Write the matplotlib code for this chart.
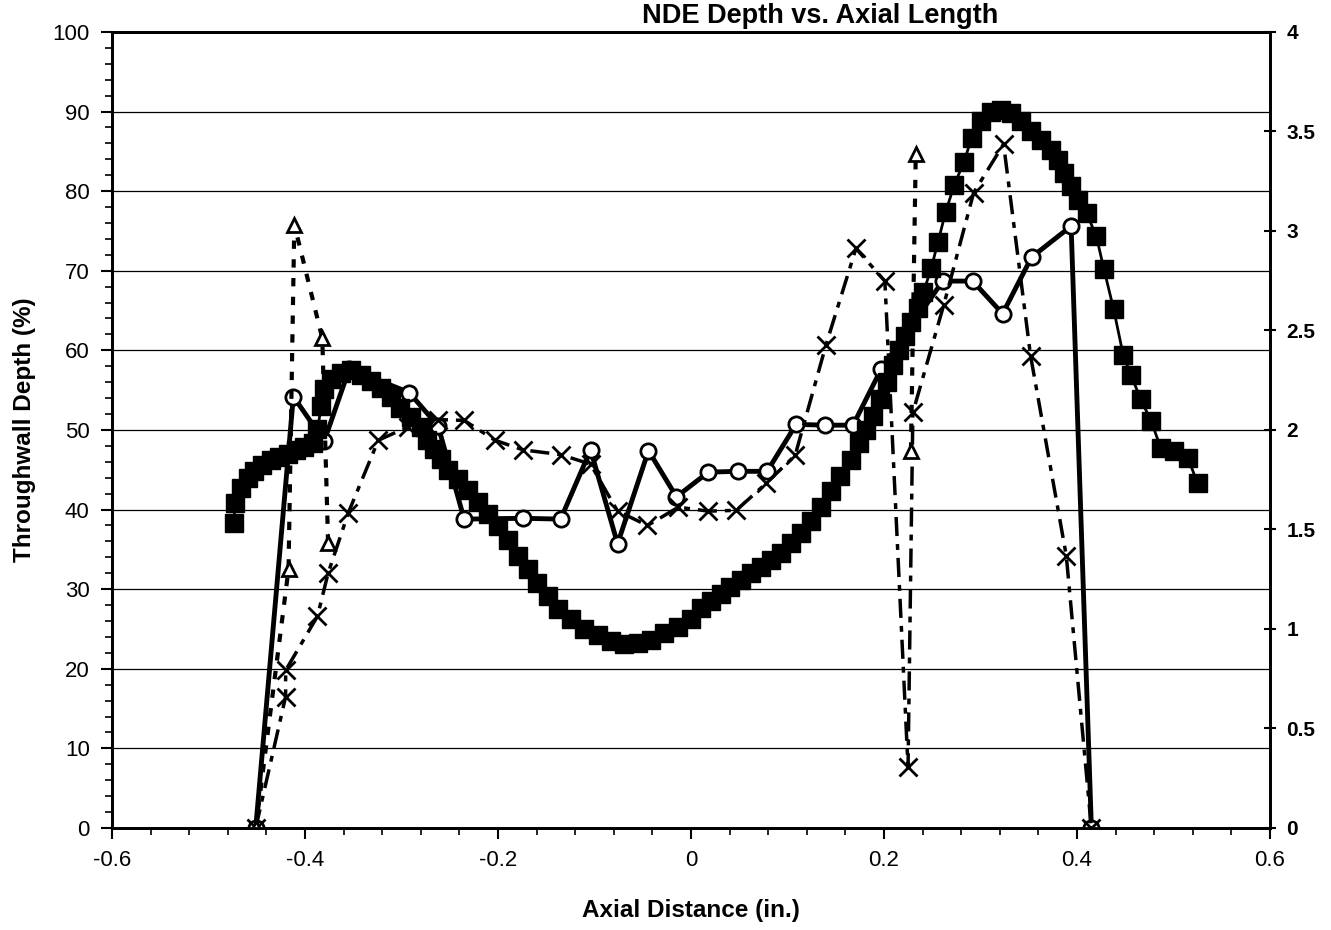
import numpy as np
import matplotlib.pyplot as plt
from matplotlib.ticker import MultipleLocator

plt.rcParams['font.family'] = ['Liberation Sans', 'DejaVu Sans']

# profile depth (filled squares)
sq_x = [-0.474, -0.472, -0.466, -0.459, -0.453, -0.444, -0.435, -0.427, -0.418, -0.409,
        -0.401, -0.392, -0.387, -0.383, -0.380, -0.373, -0.363, -0.352, -0.342, -0.332,
        -0.321, -0.311, -0.301, -0.290, -0.280, -0.273, -0.266, -0.259, -0.252, -0.241,
        -0.231, -0.221, -0.210, -0.200, -0.190, -0.179, -0.169, -0.159, -0.148, -0.138,
        -0.124, -0.111, -0.096, -0.083, -0.069, -0.055, -0.041, -0.028, -0.013, 0.000,
        0.010, 0.021, 0.031, 0.041, 0.052, 0.062, 0.073, 0.083, 0.093, 0.104,
        0.114, 0.124, 0.135, 0.145, 0.155, 0.166, 0.174, 0.181, 0.189, 0.196,
        0.203, 0.209, 0.216, 0.222, 0.228, 0.235, 0.241, 0.249, 0.256, 0.264,
        0.273, 0.283, 0.291, 0.301, 0.311, 0.321, 0.332, 0.342, 0.352, 0.363,
        0.373, 0.380, 0.387, 0.394, 0.401, 0.410, 0.420, 0.428, 0.438, 0.448,
        0.456, 0.466, 0.477, 0.487, 0.501, 0.515, 0.525]
sq_y = [38.3, 40.8, 42.7, 44.0, 44.9, 45.6, 46.2, 46.6, 47.0, 47.5,
        47.9, 48.3, 50.1, 53.0, 55.1, 56.4, 57.2, 57.5, 56.9, 56.1,
        55.3, 54.1, 52.8, 51.6, 50.4, 48.7, 47.6, 46.3, 45.0, 43.8,
        42.4, 41.0, 39.5, 37.9, 36.2, 34.2, 32.5, 30.8, 29.2, 27.5,
        26.3, 25.0, 24.3, 23.5, 23.1, 23.2, 23.6, 24.5, 25.3, 26.3,
        27.6, 28.5, 29.4, 30.3, 31.1, 32.0, 32.8, 33.7, 34.6, 35.8,
        37.0, 38.6, 40.3, 42.3, 44.2, 46.2, 48.3, 50.0, 51.8, 53.9,
        56.0, 58.2, 60.0, 61.8, 63.5, 65.3, 67.3, 70.3, 73.6, 77.4,
        80.8, 83.7, 86.7, 88.8, 89.9, 90.2, 89.8, 88.8, 87.6, 86.4,
        85.2, 83.9, 82.3, 80.7, 78.9, 77.2, 74.4, 70.2, 65.2, 59.4,
        56.9, 53.9, 51.1, 47.7, 47.4, 46.5, 43.3]

# open circles, solid line
circ_x = [-0.451, -0.412, -0.380, -0.354, -0.292, -0.262, -0.235, -0.174, -0.135, -0.104,
          -0.076, -0.044, -0.015, 0.018, 0.049, 0.079, 0.109, 0.139, 0.168, 0.197,
          0.261, 0.292, 0.323, 0.353, 0.394, 0.415]
circ_y = [0.0, 54.2, 48.6, 57.7, 54.7, 50.5, 38.8, 38.9, 38.8, 47.5,
          35.7, 47.4, 41.6, 44.7, 44.8, 44.8, 50.7, 50.6, 50.6, 57.6,
          68.7, 68.7, 64.6, 71.7, 75.6, 0.0]

# crosses, dash-dot line
cross_x = [-0.451, -0.420, -0.420, -0.387, -0.376, -0.355, -0.324, -0.293, -0.262, -0.235,
           -0.203, -0.174, -0.135, -0.104, -0.076, -0.045, -0.013, 0.018, 0.047, 0.078,
           0.108, 0.140, 0.171, 0.201, 0.225, 0.230, 0.262, 0.293, 0.324, 0.352,
           0.389, 0.415]
cross_y = [0.0, 16.5, 19.8, 26.6, 32.0, 39.6, 48.7, 50.4, 51.3, 51.2,
           48.7, 47.5, 46.9, 45.7, 39.8, 38.0, 40.3, 39.8, 39.9, 43.3,
           46.8, 60.7, 72.8, 68.7, 7.6, 52.2, 65.7, 79.8, 85.9, 59.3,
           34.2, 0.0]

# open triangles, dotted line
tri_x = [-0.451, -0.417, -0.411, -0.382, -0.376, np.nan, 0.228, 0.233]
tri_y = [0.0, 32.5, 75.8, 61.5, 35.8, np.nan, 47.4, 84.7]

fig = plt.figure(figsize=(13.31, 9.30), dpi=100)
ax = fig.add_axes([0.0841, 0.1097, 0.870, 0.856])

ax.set_xlim(-0.6, 0.6)
ax.set_ylim(0, 100)

ax.yaxis.grid(True, color='black', linewidth=0.9)
ax.set_axisbelow(True)

ax.plot(circ_x, circ_y, '-', color='black', linewidth=3.5, marker='o', markersize=11,
        markerfacecolor='white', markeredgecolor='black', markeredgewidth=2, zorder=3)
ax.plot(sq_x, sq_y, '-', color='black', linewidth=2, marker='s', markersize=13.5,
        markerfacecolor='black', markeredgecolor='black', zorder=4)
ax.plot(cross_x, cross_y, color='black', linewidth=2.5, dashes=(5.5, 2.3, 1.7, 2.3),
        marker='x', markersize=13, markeredgewidth=2, zorder=5)
ax.plot(tri_x, tri_y, color='black', linewidth=3, dashes=(2, 2.5), marker='^',
        markersize=10, markerfacecolor='white', markeredgecolor='black',
        markeredgewidth=2, zorder=5)

# ticks
ax.xaxis.set_minor_locator(MultipleLocator(0.04))
ax.yaxis.set_major_locator(MultipleLocator(10))
ax.yaxis.set_minor_locator(MultipleLocator(2))
ax.set_xticks(np.arange(-0.6, 0.61, 0.2))
ax.set_xticklabels(['-0.6', '-0.4', '-0.2', '0', '0.2', '0.4', '0.6'])
ax.tick_params(axis='both', which='major', labelsize=16, length=8, width=1.5,
               direction='out', pad=8)
ax.tick_params(axis='both', which='minor', length=5, width=1.2, direction='out')

for side in ['left', 'bottom', 'top', 'right']:
    ax.spines[side].set_linewidth(2)

ax.set_xlabel('Axial Distance (in.)', fontsize=17.5, fontweight='bold', labelpad=20)
ax.set_ylabel('Throughwall Depth (%)', fontsize=17.5, fontweight='bold', labelpad=12)

ax2 = ax.twinx()
ax2.set_ylim(0, 4)
ax2.set_yticks([0, 0.5, 1, 1.5, 2, 2.5, 3, 3.5, 4])
ax2.set_yticklabels(['0', '0.5', '1', '1.5', '2', '2.5', '3', '3.5', '4'])
ax2.tick_params(axis='y', labelsize=15, length=8, width=1.5, direction='inout', pad=8)
for lab in ax2.get_yticklabels():
    lab.set_fontweight('bold')
for side in ['left', 'bottom', 'top', 'right']:
    ax2.spines[side].set_linewidth(2)

fig.text(0.616, 0.975, 'NDE Depth vs. Axial Length', fontsize=19.5, fontweight='bold',
         ha='center', va='baseline')

fig.savefig('out.png', dpi=100)
